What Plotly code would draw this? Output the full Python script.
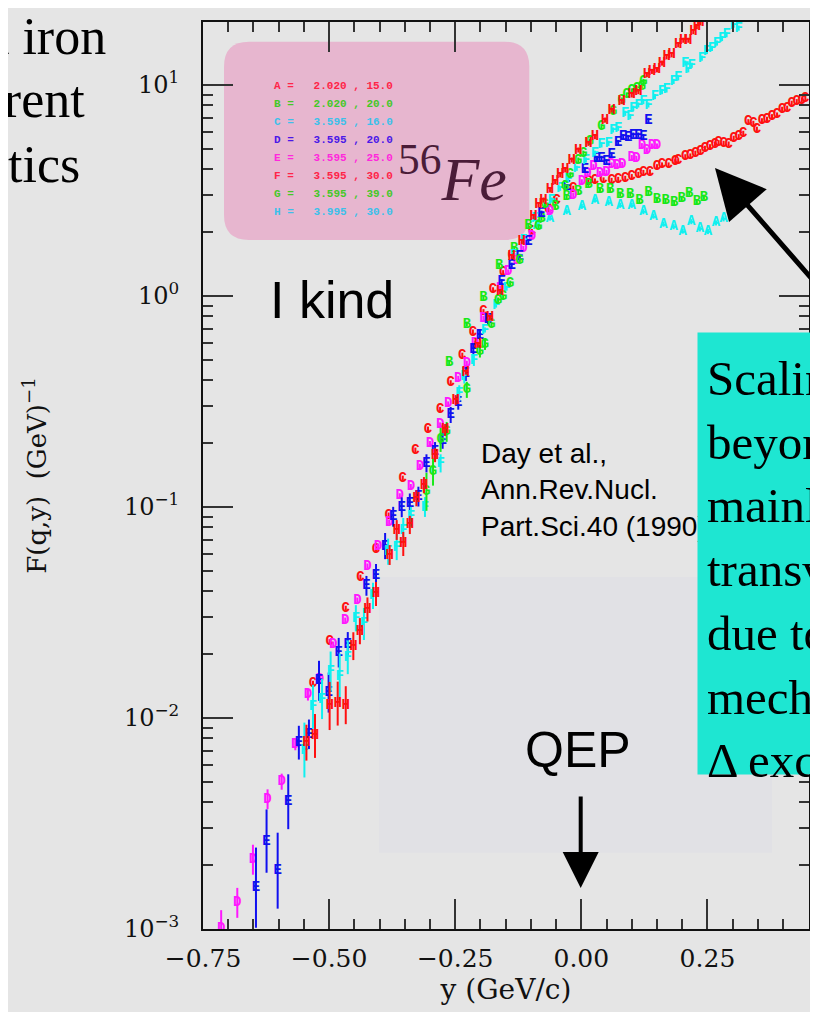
import plotly.graph_objects as go

# ---------------- data: y (GeV/c) and F(q,y) (GeV^-1) ----------------
A_y = [-0.088, -0.062, -0.029, 0.001, 0.027, 0.054, 0.077, 0.100, 0.123, 0.143, 0.163, 0.183, 0.201, 0.218, 0.235, 0.251, 0.267, 0.282]
A_F = [2.17, 2.34, 2.51, 2.66, 2.85, 2.77, 2.69, 2.69, 2.51, 2.39, 2.19, 2.13, 2.03, 2.25, 2.08, 2.02, 2.22, 2.32]
A_err = []

B_y = [-0.262, -0.227, -0.194, -0.163, -0.133, -0.105, -0.079, -0.052, -0.029, -0.006, 0.014, 0.037, 0.057, 0.077, 0.097, 0.115, 0.133, 0.150, 0.167, 0.184, 0.199, 0.214, 0.229, 0.243]
B_F = [0.483, 0.736, 0.984, 1.40, 1.68, 2.15, 2.34, 2.65, 2.96, 3.12, 3.36, 3.20, 3.18, 3.04, 3.04, 2.83, 3.09, 2.87, 2.83, 2.77, 2.90, 3.07, 2.80, 2.94]
B_err = []

C_y = [-0.532, -0.499, -0.467, -0.438, -0.407, -0.382, -0.354, -0.329, -0.304, -0.280, -0.259, -0.236, -0.215, -0.194, -0.175, -0.155, -0.138, -0.098, -0.065, -0.049, -0.016, 0.014, 0.027, 0.044, 0.060, 0.073, 0.087, 0.100, 0.113, 0.123, 0.136, 0.150, 0.160, 0.173, 0.186, 0.192, 0.206, 0.216, 0.226, 0.236, 0.245, 0.255, 0.265, 0.272, 0.282, 0.292, 0.302, 0.312, 0.321, 0.331, 0.341, 0.348, 0.358, 0.368, 0.378, 0.388, 0.398, 0.408, 0.417, 0.427, 0.437, 0.444]
C_F = [0.0146, 0.0230, 0.0331, 0.0465, 0.0632, 0.0916, 0.137, 0.186, 0.234, 0.290, 0.388, 0.524, 0.675, 0.843, 1.07, 1.29, 1.55, 2.02, 2.56, 2.85, 3.24, 3.48, 3.51, 3.55, 3.53, 3.57, 3.61, 3.68, 3.77, 3.85, 3.87, 4.10, 4.18, 4.18, 4.33, 4.38, 4.57, 4.61, 4.75, 4.83, 5.01, 5.10, 5.25, 5.33, 5.29, 5.25, 5.59, 5.69, 5.90, 6.70, 6.58, 6.17, 6.77, 6.88, 7.08, 7.21, 7.67, 7.76, 8.19, 8.34, 8.49, 8.65]
C_err = []

D_y = [-0.714, -0.682, -0.651, -0.622, -0.594, -0.567, -0.542, -0.518, -0.492, -0.468, -0.444, -0.424, -0.403, -0.381, -0.360, -0.338, -0.320, -0.300, -0.280, -0.264, -0.244, -0.227, -0.211, -0.194, -0.161, -0.145, -0.128, -0.115, -0.098, -0.062, -0.016, 0.001, 0.012, 0.024, 0.037, 0.050, 0.060, 0.071, 0.081, 0.100, 0.109, 0.120, 0.130, 0.140, 0.150]
D_F = [0.00101, 0.00133, 0.00213, 0.00412, 0.00499, 0.00750, 0.0129, 0.0153, 0.0224, 0.0291, 0.0362, 0.0525, 0.0653, 0.0849, 0.113, 0.125, 0.156, 0.200, 0.245, 0.308, 0.407, 0.480, 0.597, 0.784, 1.09, 1.30, 1.48, 1.68, 1.91, 2.51, 3.01, 3.48, 3.81, 4.10, 3.81, 3.85, 4.18, 4.15, 4.20, 4.53, 4.49, 5.16, 4.92, 5.14, 5.14]
D_err = [0.085, 0.071, 0.071, 0.047, 0.038, 0.028, 0.028, 0.024]

E_y = [-0.645, -0.624, -0.602, -0.581, -0.560, -0.540, -0.520, -0.501, -0.481, -0.463, -0.426, -0.407, -0.389, -0.373, -0.356, -0.340, -0.323, -0.307, -0.290, -0.275, -0.259, -0.244, -0.229, -0.214, -0.201, -0.185, -0.158, -0.138, -0.122, -0.105, -0.079, -0.029, 0.007, 0.031, 0.040, 0.050, 0.060, 0.073, 0.083, 0.093, 0.103, 0.113, 0.123, 0.133]
E_F = [0.00157, 0.00261, 0.00189, 0.00401, 0.00764, 0.00837, 0.0150, 0.0132, 0.0204, 0.0224, 0.0423, 0.0471, 0.0653, 0.0899, 0.0997, 0.104, 0.112, 0.161, 0.184, 0.206, 0.273, 0.312, 0.427, 0.555, 0.653, 0.770, 1.17, 1.40, 1.54, 1.81, 2.47, 3.30, 3.96, 4.49, 4.49, 4.33, 4.66, 5.34, 5.69, 5.64, 5.79, 5.79, 5.69, 6.80]
E_err = [0.19, 0.15, 0.18, 0.13, 0.08, 0.07, 0.095, 0.095, 0.07, 0.057, 0.047, 0.057, 0.062, 0.047, 0.047, 0.047, 0.047, 0.043, 0.043, 0.038, 0.038, 0.033, 0.033, 0.028, 0.024, 0.024]

F_y = [-0.549, -0.532, -0.514, -0.497, -0.479, -0.463, -0.447, -0.431, -0.413, -0.383, -0.366, -0.353, -0.338, -0.310, -0.279, -0.242, -0.232, -0.213, -0.191, -0.169, -0.148, -0.135, -0.115, -0.092, -0.059, -0.042, -0.026, -0.009, 0.009, 0.027, 0.040, 0.054, 0.063, 0.073, 0.087, 0.097, 0.103, 0.113, 0.123, 0.133, 0.146, 0.160, 0.169, 0.183, 0.192, 0.206, 0.212, 0.219, 0.239, 0.249, 0.259, 0.269, 0.279, 0.288, 0.302, 0.312]
F_F = [0.00705, 0.0113, 0.0123, 0.0166, 0.0157, 0.0194, 0.0297, 0.0279, 0.0379, 0.0614, 0.0646, 0.0778, 0.0899, 0.100, 0.161, 0.346, 0.415, 0.497, 0.690, 0.906, 1.09, 1.56, 1.84, 2.33, 2.85, 3.24, 3.55, 4.03, 4.41, 4.75, 5.20, 5.29, 6.12, 6.23, 7.34, 7.08, 7.76, 8.04, 8.34, 8.04, 8.81, 9.30, 9.47, 10.4, 10.8, 12.7, 11.8, 12.4, 13.4, 14.4, 14.9, 15.8, 16.6, 17.3, 19.2, 18.6]
F_err = [0.13, 0.104, 0.095, 0.095, 0.11, 0.08, 0.062, 0.076, 0.062, 0.062, 0.062, 0.057, 0.047, 0.047, 0.043, 0.038, 0.033, 0.028]

G_y = [-0.307, -0.294, -0.279, -0.267, -0.227, -0.201, -0.191, -0.178, -0.165, -0.155, -0.141, -0.122, -0.085, -0.072, -0.032, -0.022, -0.006, 0.004, 0.017, 0.040, 0.063, 0.080, 0.090, 0.100, 0.110, 0.120, 0.123]
G_F = [0.118, 0.147, 0.208, 0.227, 0.359, 0.545, 0.592, 0.729, 0.957, 0.992, 1.15, 1.48, 2.13, 2.70, 3.30, 3.75, 4.41, 4.75, 5.39, 6.35, 7.53, 8.49, 8.97, 9.37, 9.62, 9.89, 10.4]
G_err = [0.09, 0.066, 0.057, 0.047, 0.038, 0.028, 0.028]

H_y = [-0.545, -0.528, -0.499, -0.483, -0.467, -0.452, -0.439, -0.424, -0.407, -0.380, -0.366, -0.353, -0.340, -0.327, -0.312, -0.290, -0.270, -0.249, -0.229, -0.205, -0.181, -0.161, -0.138, -0.118, -0.095, -0.085, -0.075, -0.062, -0.052, -0.042, -0.032, -0.019, -0.006, 0.014, 0.027, 0.047, 0.060, 0.080, 0.100, 0.113, 0.130, 0.140, 0.150, 0.160, 0.169, 0.179, 0.192, 0.202, 0.212, 0.222, 0.229, 0.236]
H_F = [0.00764, 0.00822, 0.0114, 0.0117, 0.0115, 0.0219, 0.0258, 0.0327, 0.0387, 0.0592, 0.0778, 0.0668, 0.0822, 0.110, 0.127, 0.176, 0.232, 0.321, 0.436, 0.586, 0.787, 1.05, 1.54, 1.81, 2.38, 2.70, 2.85, 3.18, 3.48, 3.75, 3.96, 4.41, 4.92, 5.29, 5.69, 6.82, 7.61, 8.34, 8.97, 9.30, 11.2, 11.6, 11.8, 12.7, 13.6, 13.9, 15.5, 16.3, 16.3, 17.9, 18.9, 19.7]
H_err = [0.085, 0.104, 0.114, 0.104, 0.09, 0.066, 0.062, 0.057, 0.057, 0.047, 0.047, 0.057, 0.043, 0.038, 0.038, 0.033, 0.028, 0.024]

DEFAULT_ERR = 0.012  # small residual error bar (decades) for remaining points

# legend table (beam energy GeV, angle deg)
leg_labels = ["A", "B", "C", "D", "E", "F", "G", "H"]
leg_energy = ["2.020", "2.020", "3.595", "3.595", "3.595", "3.595", "3.595", "3.995"]
leg_angle = ["15.0", "20.0", "16.0", "20.0", "25.0", "30.0", "39.0", "30.0"]
leg_colors = ["#ff2448", "#45c828", "#3cc0ea", "#4a18e8", "#ff28dc", "#ff2448", "#45c828", "#3cc0ea"]

x_tickvals = [-0.75, -0.5, -0.25, 0.0, 0.25]
y_tickvals = [1e-3, 1e-2, 1e-1, 1, 10]
y_ticktext = ["10<sup>\u22123</sup>", "10<sup>\u22122</sup>", "10<sup>\u22121</sup>", "10<sup>0</sup>", "10<sup>1</sup>"]

# ---------------- geometry helpers (page pixel -> paper) ----------------
W, H = 818, 1012
OFF = 8                       # page offset of the figure (body margin)
ML, MR, MT, MB = 195, 17, 14, 91
PW = W - ML - MR
PH = H - MT - MB


def px(x):
    return (x - OFF - ML) / PW


def py(y):
    return (H - MB - (y - OFF)) / PH


fig = go.Figure()

series = [
    ("C", C_y, C_F, C_err, "#ff1010"),
    ("A", A_y, A_F, A_err, "#10f0f0"),
    ("B", B_y, B_F, B_err, "#18e818"),
    ("D", D_y, D_F, D_err, "#ff18ff"),
    ("E", E_y, E_F, E_err, "#1010f0"),
    ("F", F_y, F_F, F_err, "#10f0f0"),
    ("G", G_y, G_F, G_err, "#18e818"),
    ("H", H_y, H_F, H_err, "#ff1010"),
]
for name, ys, fs, errs, col in series:
    d = list(errs) + [DEFAULT_ERR] * (len(ys) - len(errs))
    up = [f * (10 ** e - 1) for f, e in zip(fs, d)]
    dn = [f * (1 - 10 ** (-e)) for f, e in zip(fs, d)]
    fig.add_trace(go.Scatter(
        x=ys, y=fs, mode="text", text=[name] * len(ys),
        textfont=dict(family="Liberation Mono, monospace", size=14, color=col, weight="bold"),
        error_y=dict(type="data", array=up, arrayminus=dn, color=col, thickness=2, width=0),
        showlegend=False, hoverinfo="skip", cliponaxis=True,
    ))

# ---------------- shapes ----------------
rx, ry = 25 / PW, 25 / PH
x0, x1 = px(224), px(529.3)
yb, yt = py(240), py(41.7)
pink_path = (f"M {x0+rx},{yt} L {x1-rx},{yt} Q {x1},{yt} {x1},{yt-ry} "
             f"L {x1},{yb+ry} Q {x1},{yb} {x1-rx},{yb} L {x0+rx},{yb} "
             f"Q {x0},{yb} {x0},{yb+ry} L {x0},{yt-ry} Q {x0},{yt} {x0+rx},{yt} Z")

shapes = [
    dict(type="rect", xref="paper", yref="paper", x0=px(379), x1=px(772), y0=py(852.7), y1=py(577),
         fillcolor="#e1e1e5", line=dict(width=0), layer="below"),
    dict(type="path", xref="paper", yref="paper", path=pink_path,
         fillcolor="#e7b6cf", line=dict(width=0), layer="below"),
]

# ---------------- annotations ----------------
ann = []
# clipped slide text at left
for txt, xr, yc in [("Scaling in iron", 108, 37), ("for different", 87, 100), ("kinematics", 82, 164)]:
    ann.append(dict(xref="paper", yref="paper", x=px(xr), y=py(yc), xanchor="right", yanchor="middle",
                    text=txt, showarrow=False, font=dict(family="Liberation Serif", size=52, color="black")))

# legend table
for i, (lab, en, an, col) in enumerate(zip(leg_labels, leg_energy, leg_angle, leg_colors)):
    s = f"{lab} =   {en} , {an}".replace(" ", "\u00a0")
    ann.append(dict(xref="paper", yref="paper", x=px(272), y=py(85.7 + i * 18.1), xanchor="left",
                    yanchor="middle", text=f"<b>{s}</b>", showarrow=False,
                    font=dict(family="Liberation Mono, monospace", size=11, color=col)))

ann.append(dict(xref="paper", yref="paper", x=px(396), y=py(215), xanchor="left", yanchor="bottom",
                text="<sup>56</sup><i>Fe</i>", showarrow=False,
                font=dict(family="Liberation Serif", size=62, color="#4a1c38")))

ann.append(dict(xref="paper", yref="paper", x=px(268), y=py(300), xanchor="left", yanchor="middle",
                text="I kind", showarrow=False, font=dict(family="Liberation Sans", size=52, color="black")))

ann.append(dict(xref="paper", yref="paper", x=px(479), y=py(490), xanchor="left", yanchor="middle",
                text="Day et al.,<br>Ann.Rev.Nucl.<br>Part.Sci.40 (1990)", align="left", showarrow=False,
                font=dict(family="Liberation Sans", size=28, color="black")))

ann.append(dict(xref="paper", yref="paper", x=px(578), y=py(750), xanchor="center", yanchor="middle",
                text="QEP", showarrow=False, font=dict(family="Liberation Sans", size=50, color="black")))

# QEP arrow
ann.append(dict(xref="paper", yref="paper", x=px(580.7), y=py(888), ax=0, ay=-93, text="",
                showarrow=True, arrowhead=2, arrowsize=1.8, arrowwidth=4, arrowcolor="black"))
# big arrow
ann.append(dict(xref="paper", yref="paper", x=px(715), y=py(168), ax=135, ay=127, text="",
                showarrow=True, arrowhead=2, arrowsize=2, arrowwidth=5, arrowcolor="black"))

# teal box (covers the end of the citation) and its text, clipped by the right edge
ann.append(dict(xref="paper", yref="paper", x=px(697), y=py(332), xanchor="left", yanchor="top",
                text="\u00a0", showarrow=False, width=300, height=441, borderpad=0,
                bgcolor="#1ee6d2", font=dict(size=10, color="#1ee6d2")))
ann.append(dict(xref="paper", yref="paper", x=px(705), y=py(349), xanchor="left", yanchor="top",
                text="Scaling violation<br>beyond QEP<br>mainly in the<br>transverse part<br>due to other<br>mechanisms:<br>\u0394 excitation",
                align="left", showarrow=False, borderpad=1,
                font=dict(family="Liberation Serif", size=49, color="black")))

axis_common = dict(showline=True, linecolor="#111111", linewidth=2, mirror="allticks",
                   ticks="inside", ticklen=30, tickwidth=1.5, tickcolor="#333333",
                   showgrid=False, zeroline=False, automargin=False)

fig.update_layout(
    width=W, height=H,
    margin=dict(l=ML, r=MR, t=MT, b=MB, pad=0),
    paper_bgcolor="#e5e5e5", plot_bgcolor="#e5e5e5",
    showlegend=False,
    shapes=shapes, annotations=ann,
    xaxis=dict(range=[-0.75, 0.4513], tickvals=x_tickvals, tickformat=".2f",
               tickfont=dict(family="DejaVu Serif", size=25, color="#111111"),
               ticklabelstandoff=6,
               minor=dict(dtick=0.05, tick0=-0.75, ticks="inside", ticklen=10, tickwidth=1.5, tickcolor="#333333"),
               title=dict(text="y (GeV/c)", font=dict(family="DejaVu Serif", size=28, color="#111111"), standoff=4),
               **axis_common),
    yaxis=dict(type="log", range=[-3, 1.2986], tickvals=y_tickvals, ticktext=y_ticktext,
               tickfont=dict(family="DejaVu Serif", size=24, color="#111111"),
               ticklabelstandoff=17,
               minor=dict(tickvals=[m * 10 ** k for k in range(-3, 2) for m in range(2, 10)],
                          ticks="inside", ticklen=10, tickwidth=1.5, tickcolor="#333333"),
               title=dict(text="F(q,y)\u00a0\u00a0(GeV)<sup>\u22121</sup>",
                          font=dict(family="DejaVu Serif", size=26, color="#111111"), standoff=70),
               **axis_common),
)

fig.write_html("out.html")
